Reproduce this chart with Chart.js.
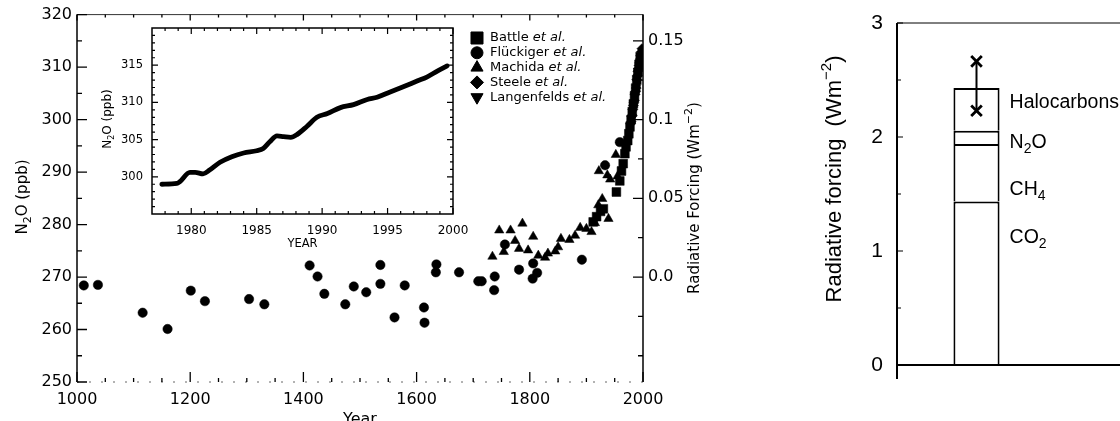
<!DOCTYPE html>
<html><head><meta charset="utf-8">
<script src="https://cdn.jsdelivr.net/npm/chart.js@4.4.0/dist/chart.umd.min.js"></script>
<style>
html,body{margin:0;padding:0;background:#fff;overflow:hidden;width:1120px;height:421px;}
canvas{position:absolute;}
#main{left:0;top:0;}
#inset{left:90px;top:12px;}
#bar{left:790px;top:-4px;}
</style></head><body>
<canvas id="main" width="720" height="429"></canvas>
<canvas id="inset" width="400" height="239"></canvas>
<canvas id="bar" width="330" height="425"></canvas>
<script>
// ---------------- DATA ----------------
// Main panel: N2O (ppb) vs year, by source
const battleYear = [1912,1918,1925,1930,1953,1959,1962,1965,1968,1970,1973,1975,1977,1979,1981,1983,1985,1987,1989,1991,1993,1995];
const battleN2O  = [280.5,281.5,282.5,283,286.2,288.3,290.2,291.6,293.5,294.8,296.0,297.3,298.6,300.0,301.5,303.0,304.5,306.0,307.5,309.0,310.5,312.0];
const fluckigerYear = [1012,1037,1116,1160,1201,1226,1304,1331,1411,1425,1437,1474,1489,1511,1536,1536,1561,1579,1613,1614,1634,1635,1675,1709,1715,1737,1738,1756,1781,1805,1806,1813,1892,1933,1959];
const fluckigerN2O  = [268.4,268.5,263.2,260.1,267.4,265.4,265.8,264.8,272.2,270.1,266.8,264.8,268.2,267.1,272.3,268.7,262.3,268.4,264.2,261.3,270.9,272.4,270.9,269.2,269.2,267.5,270.1,276.2,271.4,269.7,272.6,270.8,273.3,291.3,295.7];
const machidaYear = [1734,1746,1754,1766,1774,1781,1787,1797,1806,1815,1827,1832,1845,1850,1855,1870,1880,1889,1900,1909,1915,1921,1922,1928,1937,1939,1942,1952,1955];
const machidaN2O  = [273.9,278.9,274.8,278.9,276.9,275.4,280.2,275.1,277.7,274.1,273.7,274.5,274.9,275.7,277.3,277.1,277.9,279.4,279.2,278.6,280.3,283.7,290.2,284.9,289.4,281.1,288.6,293.3,289.2];
const steeleYear = [1978,1979,1980,1981,1982,1983,1984,1985,1986,1987,1988,1989,1990,1991,1992,1993,1994,1995,1996,1997,1998];
const steeleN2O  = [299.2,299.6,300.6,300.8,301.9,302.7,303.2,303.6,304.8,305.4,306.0,307.6,308.4,309.2,309.7,310.3,310.8,311.5,312.2,312.9,313.5];
const langenfeldsYear = [1978,1980,1982,1984,1986,1988,1990,1992,1994,1996];
const langenfeldsN2O  = [299.0,300.2,301.5,303.0,304.5,306.0,307.8,309.0,310.2,311.5];

// Main panel axes
const yearTicks = [1000,1200,1400,1600,1800,2000];
const yearMinorTicks = [1050,1100,1150,1250,1300,1350,1450,1500,1550,1650,1700,1750,1850,1900,1950];
const n2oTicks = [250,260,270,280,290,300,310,320];
const n2oMinorTicks = [255,265,275,285,295,305,315];
const rfTicks = [0,0.05,0.1,0.15];
const rfTickLabels = ['0.0','0.05','0.1','0.15'];
const rfMinorTicks = [-0.05,-0.025,0.025,0.075,0.125];
const rfZeroPpb = 270, ppbPerRf = 300;   // 0.0 W/m2 at 270 ppb, 0.05 W/m2 per 15 ppb

// Inset: N2O 1977-2000
const insetYear = [1977.75,1978.9,1979.1,1979.9,1980.3,1980.9,1981.4,1982.2,1983.1,1984.0,1985.0,1985.5,1986.0,1986.55,1987.05,1987.6,1988.1,1988.85,1989.6,1990.4,1991.4,1992.4,1993.45,1994.2,1995.2,1996.2,1997.3,1998.0,1998.8,1999.55];
const insetN2O  = [299.0,299.1,299.3,300.6,300.6,300.4,300.9,301.95,302.7,303.2,303.5,303.8,304.7,305.5,305.4,305.3,305.7,306.8,308.0,308.5,309.3,309.7,310.4,310.7,311.4,312.1,312.9,313.4,314.2,314.9];
const insetYearTicks = [1980,1985,1990,1995,2000];
const insetYearMinor = [1978,1979,1981,1982,1983,1984,1986,1987,1988,1989,1991,1992,1993,1994,1996,1997,1998,1999];
const insetN2oTicks = [300,305,310,315];
const insetN2oMinor = [296,297,298,299,301,302,303,304,306,307,308,309,311,312,313,314,316,317,318,319];

// Right panel: radiative forcing (W m-2)
const barCategories = ['Present'];
const co2Forcing = [1.434];
const ch4Forcing = [0.504];
const n2oForcing = [0.116];
const halocarbonForcing = [0.375];
const halocarbonRange = [2.663, 2.230];
const barTicks = [0,1,2,3];
const barMinorTicks = [0.5,1.5,2.5];
const barLabelValues = [1.115, 1.537, 1.952, 2.298]; // CO2, CH4, N2O, Halocarbons label heights

// ---------------- HELPERS ----------------
const MAINF = '"DejaVu Sans", sans-serif';
const BARF = '"Liberation Sans", Arial, sans-serif';
const zipXY = (xs, ys) => xs.map((x, i) => ({x, y: ys[i]}));
function line(ctx,x1,y1,x2,y2){ctx.beginPath();ctx.moveTo(x1,y1);ctx.lineTo(x2,y2);ctx.stroke();}
function ticksOn(ctx,a,scale,vals,len,edge){
  ctx.beginPath();
  vals.forEach(v=>{const p=scale.getPixelForValue(v);
    if(edge==='left'){ctx.moveTo(a.left,p);ctx.lineTo(a.left+len,p);}
    else if(edge==='right'){ctx.moveTo(a.right,p);ctx.lineTo(a.right-len,p);}
    else if(edge==='top'){ctx.moveTo(p,a.top);ctx.lineTo(p,a.top+len);}
    else {ctx.moveTo(p,a.bottom);ctx.lineTo(p,a.bottom-len);}
  });
  ctx.stroke();
}
// parts: [text, mode] mode 0 normal, 1 subscript, 2 superscript, 3 italic
function rich(ctx,x,y,parts,size,family,rot,align){
  ctx.save(); ctx.translate(x,y); ctx.rotate(rot||0);
  const f = m => (m===3?'italic ':'') + ((m===1||m===2)?Math.round(size*0.7):size) + 'px ' + family;
  let w=0; parts.forEach(([t,m])=>{ctx.font=f(m); w+=ctx.measureText(t).width;});
  let cx = align==='left' ? 0 : -w/2;
  ctx.textAlign='left'; ctx.textBaseline='middle'; ctx.fillStyle='#000';
  parts.forEach(([t,m])=>{ctx.font=f(m); const dy = m===1?size*0.32:(m===2?-size*0.38:0); ctx.fillText(t,cx,dy); cx+=ctx.measureText(t).width;});
  ctx.restore();
}
const setTicks = vals => s => { s.ticks = vals.map(v => ({value: v})); };

// ---------------- MAIN PANEL ----------------
const legendRows = [
  [['Battle ',0],['et al.',3]],
  [['Flückiger ',0],['et al.',3]],
  [['Machida ',0],['et al.',3]],
  [['Steele ',0],['et al.',3]],
  [['Langenfelds ',0],['et al.',3]]
];
const mainPlugin = {
  id:'mainFrame',
  afterDraw(chart){
    const {ctx, chartArea:a, scales} = chart;
    const {x, y, y2} = scales;
    ctx.save();
    ctx.strokeStyle='#000'; ctx.lineWidth=1.5;
    line(ctx,a.left,a.top,a.left,a.bottom);
    line(ctx,a.right,a.top,a.right,a.bottom);
    ctx.lineWidth=1; ctx.strokeStyle='#333';
    line(ctx,a.left,a.top,a.right,a.top);
    ctx.setLineDash([2,10]); ctx.strokeStyle='#666';
    line(ctx,a.left,a.bottom,a.right,a.bottom);
    ctx.setLineDash([]);
    ctx.strokeStyle='#000'; ctx.lineWidth=1.3;
    ticksOn(ctx,a,y,n2oTicks,10,'left');
    ticksOn(ctx,a,y,n2oMinorTicks,5,'left');
    ticksOn(ctx,a,y2,rfTicks,10,'right');
    ticksOn(ctx,a,y2,rfMinorTicks,5,'right');
    ticksOn(ctx,a,x,yearTicks,10,'bottom');
    ticksOn(ctx,a,x,yearMinorTicks,4,'bottom');
    ticksOn(ctx,a,x,yearTicks,6,'top');
    ticksOn(ctx,a,x,yearMinorTicks,3,'top');
    // axis titles
    rich(ctx,23,197,[['N',0],['2',1],['O (ppb)',0]],15,MAINF,-Math.PI/2);
    rich(ctx,695,198,[['Radiative Forcing (Wm',0],['−2',2],[')',0]],15,MAINF,-Math.PI/2);
    // legend
    const lx = 477, ly0 = 38, dy = 14.8;
    chart.data.datasets.forEach((ds,i)=>{
      const yy = ly0 + i*dy;
      ctx.fillStyle='#000'; ctx.strokeStyle='#000'; ctx.lineWidth=1;
      Chart.helpers.drawPoint(ctx,{pointStyle:ds.pointStyle,radius:ds.legendRadius,rotation:ds.rotation||0,borderWidth:1},lx,yy);
      rich(ctx,490,yy,legendRows[i],13,MAINF,0,'left');
    });
    ctx.restore();
  }
};
const common = {backgroundColor:'#000', borderColor:'#000', borderWidth:0.5};
new Chart(document.getElementById('main'), {
  type:'scatter',
  data:{datasets:[
    {label:'Battle et al.', data:zipXY(battleYear,battleN2O), pointStyle:'rect', pointRadius:6.2, legendRadius:8.5, ...common},
    {label:'Flückiger et al.', data:zipXY(fluckigerYear,fluckigerN2O), pointStyle:'circle', pointRadius:4.7, legendRadius:6, ...common},
    {label:'Machida et al.', data:zipXY(machidaYear,machidaN2O), pointStyle:'triangle', pointRadius:5.4, legendRadius:7, ...common},
    {label:'Steele et al.', data:zipXY(steeleYear,steeleN2O), pointStyle:'rectRot', pointRadius:5, legendRadius:6.5, ...common},
    {label:'Langenfelds et al.', data:zipXY(langenfeldsYear,langenfeldsN2O), pointStyle:'triangle', rotation:180, pointRotation:180, pointRadius:5.2, legendRadius:7, ...common}
  ]},
  options:{
    responsive:false, animation:false, devicePixelRatio:1,
    layout:{padding:{top:14,left:0,right:0,bottom:0}},
    plugins:{legend:{display:false}, tooltip:{enabled:false}},
    scales:{
      x:{type:'linear', min:1000, max:2000, afterBuildTicks:setTicks(yearTicks),
         grid:{display:false,drawTicks:false}, border:{display:false},
         ticks:{font:{family:MAINF,size:16}, color:'#000', padding:8, maxRotation:0, autoSkip:false, callback:v=>String(v)},
         title:{display:true, text:'Year', font:{family:MAINF,size:16}, color:'#000', padding:0},
         afterFit:s=>{s.height=47;}},
      y:{position:'left', min:250, max:320, afterBuildTicks:setTicks(n2oTicks),
         grid:{display:false,drawTicks:false}, border:{display:false},
         ticks:{font:{family:MAINF,size:16}, color:'#000', padding:5, autoSkip:false},
         afterFit:s=>{s.width=77;}},
      y2:{position:'right', min:(250-rfZeroPpb)/ppbPerRf, max:(320-rfZeroPpb)/ppbPerRf, afterBuildTicks:setTicks(rfTicks),
         grid:{display:false,drawTicks:false}, border:{display:false},
         ticks:{font:{family:MAINF,size:16}, color:'#000', padding:5, autoSkip:false, callback:(v,i)=>rfTickLabels[i]},
         afterFit:s=>{s.width=77;}}
    }
  },
  plugins:[mainPlugin]
});

// ---------------- INSET ----------------
const insetPlugin = {
  id:'insetFrame',
  afterDraw(chart){
    const {ctx, chartArea:a, scales:{x,y}} = chart;
    ctx.save(); ctx.strokeStyle='#000'; ctx.lineWidth=1.5;
    ctx.strokeRect(a.left,a.top,a.right-a.left,a.bottom-a.top);
    ctx.lineWidth=1.2;
    ['bottom','top'].forEach(e=>{ticksOn(ctx,a,x,insetYearTicks,6,e);ticksOn(ctx,a,x,insetYearMinor,3,e);});
    ['left','right'].forEach(e=>{ticksOn(ctx,a,y,insetN2oTicks,6,e);ticksOn(ctx,a,y,insetN2oMinor,3,e);});
    rich(ctx,18,(a.top+a.bottom)/2 - 2,[['N',0],['2',1],['O (ppb)',0]],12,MAINF,-Math.PI/2);
    ctx.restore();
  }
};
new Chart(document.getElementById('inset'), {
  type:'line',
  data:{datasets:[{data:zipXY(insetYear,insetN2O), borderColor:'#000', borderWidth:4.8, pointRadius:0,
    cubicInterpolationMode:'monotone', borderCapStyle:'round', borderJoinStyle:'round', fill:false}]},
  options:{
    responsive:false, animation:false, devicePixelRatio:1,
    layout:{padding:{top:16,right:37,left:0,bottom:0}},
    plugins:{legend:{display:false}, tooltip:{enabled:false}},
    scales:{
      x:{type:'linear', min:1977, max:2000, afterBuildTicks:setTicks(insetYearTicks),
         grid:{display:false,drawTicks:false}, border:{display:false},
         ticks:{font:{family:MAINF,size:12}, color:'#000', padding:10, maxRotation:0, autoSkip:false, callback:v=>String(v)},
         title:{display:true, text:'YEAR', font:{family:MAINF,size:11.5}, color:'#000', padding:0},
         afterFit:s=>{s.height=37;}},
      y:{min:295, max:320, afterBuildTicks:setTicks(insetN2oTicks),
         grid:{display:false,drawTicks:false}, border:{display:false},
         ticks:{font:{family:MAINF,size:11.5}, color:'#000', padding:9, autoSkip:false},
         afterFit:s=>{s.width=62;}}
    }
  },
  plugins:[insetPlugin]
});

// ---------------- BAR PANEL ----------------
const barLabels = [
  [['CO',0],['2',1]],
  [['CH',0],['4',1]],
  [['N',0],['2',1],['O',0]],
  [['Halocarbons',0]]
];
const barPlugin = {
  id:'barFrame',
  afterDraw(chart){
    const {ctx, chartArea:a, scales:{y}} = chart;
    const W = chart.width;
    ctx.save(); ctx.strokeStyle='#000';
    ctx.lineWidth=1; line(ctx,a.left,a.top,W,a.top);
    ctx.lineWidth=2; line(ctx,a.left,a.top,a.left,a.bottom+14);
    line(ctx,a.left,a.bottom,W,a.bottom);
    ctx.lineWidth=1.2;
    ticksOn(ctx,a,y,barTicks,6,'left');
    ticksOn(ctx,a,y,barMinorTicks,4,'left');
    rich(ctx,45,183,[['Radiative forcing  (Wm',0],['−2',2],[')',0]],22,BARF,-Math.PI/2);
    const bar = chart.getDatasetMeta(1).data[0];
    const lx = bar.x + bar.width/2 + 10;
    barLabelValues.forEach((v,i)=>rich(ctx,lx,y.getPixelForValue(v),barLabels[i],19.5,BARF,0,'left'));
    ctx.restore();
  }
};
const barStyle = {backgroundColor:'#fff', borderColor:'#000', borderWidth:2, stack:'rf', barPercentage:0.29, categoryPercentage:1, order:1};
new Chart(document.getElementById('bar'), {
  type:'bar',
  data:{labels:barCategories, datasets:[
    {type:'line', label:'Halocarbon range', data:halocarbonRange.map(v=>({x:barCategories[0], y:v})), yAxisID:'yErr',
     borderColor:'#000', borderWidth:2, pointStyle:'crossRot', pointRadius:7.5, pointBorderWidth:2.8, pointBackgroundColor:'#000', fill:false, order:0},
    {label:'CO2', data:co2Forcing, ...barStyle},
    {label:'CH4', data:ch4Forcing, ...barStyle},
    {label:'N2O', data:n2oForcing, ...barStyle},
    {label:'Halocarbons', data:halocarbonForcing, ...barStyle}
  ]},
  options:{
    responsive:false, animation:false, devicePixelRatio:1,
    layout:{padding:{top:27,right:64,bottom:56,left:0}},
    plugins:{legend:{display:false}, tooltip:{enabled:false}},
    scales:{
      x:{display:false, stacked:true},
      y:{stacked:true, min:0, max:3, afterBuildTicks:setTicks(barTicks),
         grid:{display:false,drawTicks:false}, border:{display:false},
         ticks:{font:{family:BARF,size:21}, color:'#000', padding:14, autoSkip:false},
         afterFit:s=>{s.width=107;}},
      yErr:{display:false, min:0, max:3}
    }
  },
  plugins:[barPlugin]
});
</script>
</body></html>
